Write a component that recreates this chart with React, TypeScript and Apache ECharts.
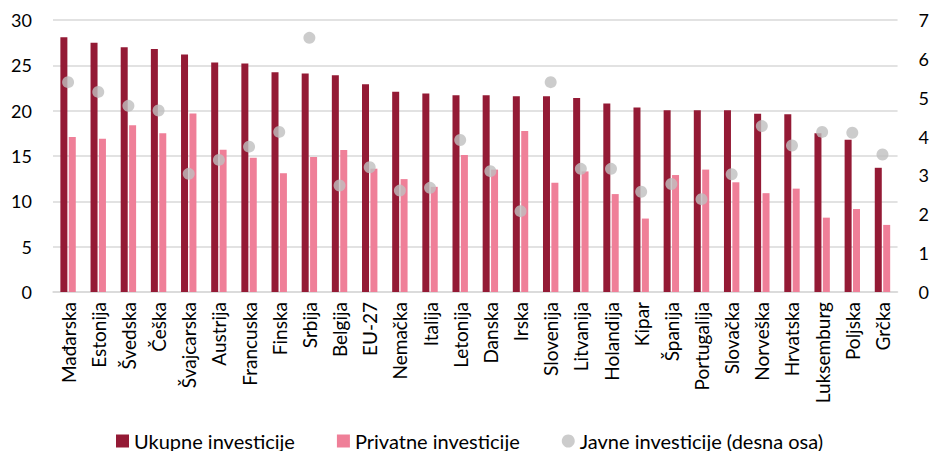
import React, { useEffect, useRef } from "react";
import * as echarts from "echarts";

const categories = ["Mađarska","Estonija","Švedska","Češka","Švajcarska","Austrija","Francuska","Finska","Srbija","Belgija","EU-27","Nemačka","Italija","Letonija","Danska","Irska","Slovenija","Litvanija","Holandija","Kipar","Španija","Portugalija","Slovačka","Norveška","Hrvatska","Luksemburg","Poljska","Grčka"];
const totalInvestment = [28.1,27.5,27.0,26.8,26.2,25.3,25.2,24.25,24.1,23.9,22.9,22.1,21.9,21.7,21.7,21.6,21.6,21.4,20.8,20.35,20.05,20.05,20.05,19.65,19.6,17.5,16.8,13.7];
const privateInvestment = [17.1,16.9,18.4,17.5,19.7,15.7,14.8,13.1,14.9,15.65,13.6,12.45,11.6,15.1,13.5,17.75,12.05,13.3,10.8,8.1,12.9,13.5,12.1,10.9,11.4,8.2,9.15,7.4];
const publicInvestment = [5.40,5.15,4.79,4.67,3.04,3.40,3.74,4.12,6.54,2.74,3.21,2.61,2.68,3.91,3.11,2.08,5.40,3.17,3.17,2.58,2.78,2.39,3.03,4.27,3.77,4.12,4.10,3.54];
const seriesNames = ["Ukupne investicije", "Privatne investicije", "Javne investicije (desna osa)"];

const FONT = "Lato";

export default function App() {
  const ref = useRef<HTMLDivElement>(null);
  useEffect(() => {
    if (!ref.current) return;
    const chart = echarts.init(ref.current, null, { renderer: "svg" });
    chart.setOption({
      animation: false,
      backgroundColor: "#ffffff",
      textStyle: { fontFamily: FONT },
      grid: { left: 53, right: 34, top: 20, bottom: 159, containLabel: false },
      legend: {
        left: 116,
        top: 431,
        padding: 0,
        itemWidth: 13,
        itemHeight: 13,
        itemGap: 42,
        textStyle: { fontFamily: FONT, fontSize: 20, color: "#000" },
        data: [
          { name: seriesNames[0], icon: "rect" },
          { name: seriesNames[1], icon: "rect" },
          { name: seriesNames[2], icon: "circle" },
        ],
      },
      xAxis: {
        type: "category",
        data: categories,
        axisLine: { show: true, lineStyle: { color: "#d9d9d9", width: 1.5 } },
        axisTick: { show: false },
        axisLabel: { rotate: 90, margin: 10, fontFamily: FONT, fontSize: 19, color: "#000", interval: 0 },
      },
      yAxis: [
        {
          type: "value",
          min: 0,
          max: 30,
          interval: 5,
          axisLine: { show: false },
          axisTick: { show: false },
          splitLine: { lineStyle: { color: "#d9d9d9", width: 1.5 } },
          axisLabel: { margin: 21, fontFamily: FONT, fontSize: 18, color: "#000" },
        },
        {
          type: "value",
          min: 0,
          max: 7,
          interval: 1,
          axisLine: { show: false },
          axisTick: { show: false },
          splitLine: { show: false },
          axisLabel: { margin: 21, fontFamily: FONT, fontSize: 18, color: "#000" },
        },
      ],
      series: [
        {
          name: seriesNames[0],
          type: "bar",
          data: totalInvestment,
          barWidth: 7,
          barGap: "20%",
          itemStyle: { color: "#941a35" },
        },
        {
          name: seriesNames[1],
          type: "bar",
          data: privateInvestment,
          barWidth: 7,
          itemStyle: { color: "#ef7f98" },
        },
        {
          name: seriesNames[2],
          type: "scatter",
          yAxisIndex: 1,
          data: publicInvestment,
          symbol: "circle",
          symbolSize: 12,
          z: 3,
          itemStyle: { color: "#bfbfbf" },
        },
      ],
    });
    return () => chart.dispose();
  }, []);
  return <div ref={ref} style={{ position: "fixed", left: 0, top: 0, width: 932, height: 451 }} />;
}
